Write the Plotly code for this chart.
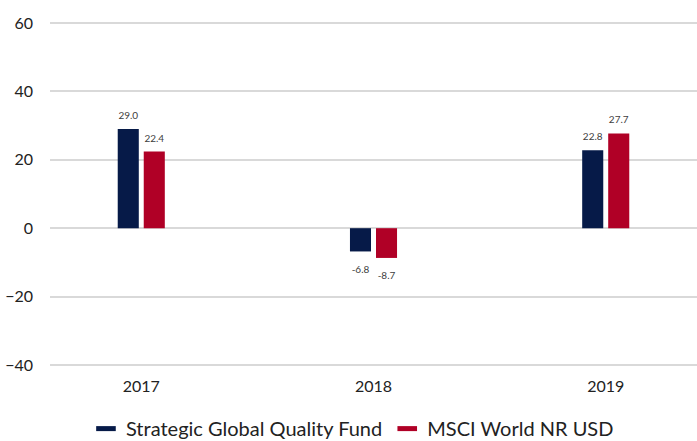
import plotly.graph_objects as go

categories = ["2017", "2018", "2019"]
fund_name = "Strategic Global Quality Fund"
bench_name = "MSCI World NR USD"
fund_values = [29.0, -6.8, 22.8]
bench_values = [22.4, -8.7, 27.7]
y_ticks = [-40, -20, 0, 20, 40, 60]

NAVY = "#061a48"
RED = "#b00026"
FONT = "Lato"

W, H = 697, 441
M = dict(l=50, r=0, t=22, b=75)
Y_RANGE = [-40.3, 60.3]
X_RANGE = [-0.393, 2.393]
BARGAP = 0.776
px_per_unit = (H - M["t"] - M["b"]) / (Y_RANGE[1] - Y_RANGE[0])
slot = (1 - BARGAP) / 2

fig = go.Figure()
fig.add_trace(go.Bar(x=categories, y=fund_values, name=fund_name,
                     marker=dict(color=NAVY, line=dict(width=0)), showlegend=False))
fig.add_trace(go.Bar(x=categories, y=bench_values, name=bench_name,
                     marker=dict(color=RED, line=dict(width=0)), showlegend=False))

# legend entries as thin horizontal bars
for nm, col in [(fund_name, NAVY), (bench_name, RED)]:
    fig.add_trace(go.Scatter(x=[categories[0]], y=[None], mode="markers", name=nm,
                             marker=dict(symbol="line-ew", size=14,
                                         line=dict(color=col, width=5))))

# data labels (text traces on a hidden numeric overlay axis aligned with categories)
for vals, off in [(fund_values, -slot / 2), (bench_values, slot / 2)]:
    xs = [i + off for i in range(len(categories))]
    ys = [v + (12.5 if v >= 0 else -19) / px_per_unit for v in vals]
    fig.add_trace(go.Scatter(x=xs, y=ys, xaxis="x2", mode="text",
                             text=[f"{v:.1f}" for v in vals],
                             textposition="middle center", showlegend=False,
                             hoverinfo="skip", cliponaxis=False,
                             textfont=dict(family=FONT, size=10, color="#404040")))

fig.update_layout(
    width=W, height=H,
    margin=dict(**M, autoexpand=False),
    paper_bgcolor="white", plot_bgcolor="white",
    barmode="group", bargap=BARGAP, bargroupgap=0.19,
    font=dict(family=FONT, color="#222222"),
    showlegend=True,
    legend=dict(orientation="h", x=0.4675, xanchor="center", y=-0.182, yanchor="middle",
                font=dict(family=FONT, size=20, color="#222222"),
                itemclick=False, traceorder="normal"),
    xaxis=dict(type="category", range=X_RANGE, showgrid=False, zeroline=False,
               showline=False, tickfont=dict(family=FONT, size=16, color="#222222"),
               ticklabelstandoff=9),
    xaxis2=dict(type="linear", range=X_RANGE, overlaying="x", visible=False),
    yaxis=dict(range=Y_RANGE, tickvals=y_ticks, showgrid=True, gridcolor="#d9d9d9",
               gridwidth=2, zeroline=True, zerolinecolor="#d9d9d9", zerolinewidth=2,
               showline=False, tickfont=dict(family=FONT, size=16, color="#222222"),
               ticklabelstandoff=16),
)

fig.write_html("out.html", config={"displayModeBar": False},
               post_script="document.body.style.margin='0';")
